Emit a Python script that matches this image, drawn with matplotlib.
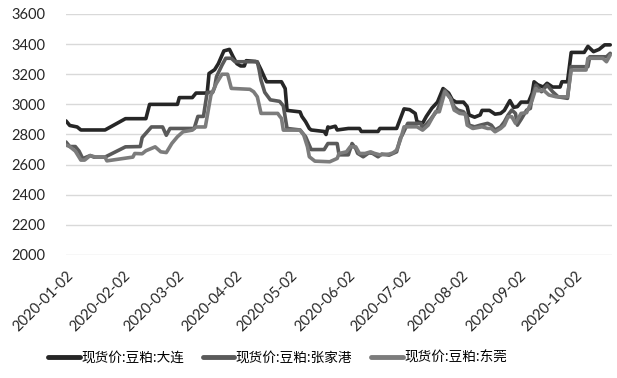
# Soybean meal spot prices: Dalian / Zhangjiagang / Dongguan, 2020
import matplotlib
matplotlib.use('Agg')
import matplotlib.pyplot as plt
import pandas as pd

plt.rcParams['font.family'] = ['Lato', 'Noto Sans CJK SC', 'DejaVu Sans']

# 现货价:豆粕:大连
dl_dates = ['2020-01-02', '2020-01-04', '2020-01-08', '2020-01-10', '2020-01-23', '2020-02-03',
            '2020-02-14', '2020-02-16', '2020-03-02', '2020-03-03', '2020-03-10', '2020-03-12',
            '2020-03-18', '2020-03-19', '2020-03-22', '2020-03-24', '2020-03-27', '2020-03-30',
            '2020-04-01', '2020-04-03', '2020-04-05', '2020-04-07', '2020-04-08', '2020-04-13',
            '2020-04-14', '2020-04-16', '2020-04-18', '2020-04-19', '2020-04-27', '2020-04-29',
            '2020-04-30', '2020-05-07', '2020-05-08', '2020-05-10', '2020-05-12', '2020-05-13',
            '2020-05-20', '2020-05-21', '2020-05-22', '2020-05-23', '2020-05-26', '2020-05-27',
            '2020-06-02', '2020-06-08', '2020-06-09', '2020-06-18', '2020-06-19', '2020-06-28',
            '2020-06-30', '2020-07-02', '2020-07-05', '2020-07-08', '2020-07-09', '2020-07-12',
            '2020-07-14', '2020-07-17', '2020-07-20', '2020-07-23', '2020-07-26', '2020-07-28',
            '2020-07-30', '2020-08-03', '2020-08-05', '2020-08-06', '2020-08-09', '2020-08-12',
            '2020-08-13', '2020-08-17', '2020-08-20', '2020-08-23', '2020-08-25', '2020-08-28',
            '2020-08-30', '2020-09-01', '2020-09-03', '2020-09-07', '2020-09-09', '2020-09-10',
            '2020-09-12', '2020-09-15', '2020-09-17', '2020-09-20', '2020-09-24', '2020-09-25',
            '2020-09-28', '2020-09-30', '2020-10-07', '2020-10-09', '2020-10-12', '2020-10-15',
            '2020-10-18', '2020-10-21']
dl_vals = [2890, 2860, 2850, 2830, 2830, 2905,
           2905, 3000, 3000, 3045, 3045, 3075,
           3075, 3205, 3230, 3270, 3355, 3365,
           3315, 3270, 3255, 3255, 3290, 3285,
           3280, 3230, 3175, 3150, 3150, 3105,
           2960, 2950, 2920, 2885, 2840, 2830,
           2820, 2800, 2850, 2845, 2855, 2830,
           2840, 2840, 2820, 2820, 2840, 2840,
           2905, 2970, 2965, 2940, 2885, 2875,
           2920, 2975, 3015, 3105, 3075, 3030,
           3015, 3015, 2985, 2930, 2915, 2930,
           2960, 2960, 2935, 2940, 2960, 3025,
           2980, 2985, 3015, 3015, 3075, 3150,
           3130, 3115, 3140, 3115, 3115, 3150,
           3150, 3345, 3345, 3385, 3350, 3365,
           3395, 3395]

# 现货价:豆粕:张家港
zjg_dates = ['2020-01-02', '2020-01-04', '2020-01-07', '2020-01-09', '2020-01-11', '2020-01-15',
             '2020-01-17', '2020-01-23', '2020-02-03', '2020-02-11', '2020-02-12', '2020-02-17',
             '2020-02-23', '2020-02-25', '2020-02-27', '2020-03-11', '2020-03-13', '2020-03-16',
             '2020-03-18', '2020-03-21', '2020-03-22', '2020-03-23', '2020-03-26', '2020-03-28',
             '2020-03-31', '2020-04-02', '2020-04-08', '2020-04-14', '2020-04-15', '2020-04-16',
             '2020-04-18', '2020-04-21', '2020-04-26', '2020-04-28', '2020-04-30', '2020-05-07',
             '2020-05-10', '2020-05-13', '2020-05-20', '2020-05-22', '2020-05-27', '2020-05-28',
             '2020-06-02', '2020-06-04', '2020-06-06', '2020-06-07', '2020-06-10', '2020-06-13',
             '2020-06-15', '2020-06-18', '2020-06-20', '2020-06-24', '2020-06-28', '2020-06-30',
             '2020-07-01', '2020-07-04', '2020-07-11', '2020-07-12', '2020-07-16', '2020-07-20',
             '2020-07-24', '2020-07-27', '2020-07-29', '2020-07-31', '2020-08-03', '2020-08-05',
             '2020-08-06', '2020-08-09', '2020-08-12', '2020-08-16', '2020-08-18', '2020-08-20',
             '2020-08-23', '2020-08-25', '2020-08-27', '2020-08-29', '2020-08-31', '2020-09-01',
             '2020-09-03', '2020-09-06', '2020-09-08', '2020-09-09', '2020-09-11', '2020-09-14',
             '2020-09-17', '2020-09-20', '2020-09-23', '2020-09-28', '2020-09-30', '2020-10-09',
             '2020-10-10', '2020-10-19', '2020-10-21']
zjg_vals = [2750, 2720, 2720, 2690, 2640, 2660,
            2650, 2650, 2718, 2720, 2780, 2850,
            2850, 2795, 2840, 2840, 2920, 2920,
            3080, 3080, 3113, 3183, 3261, 3306,
            3306, 3283, 3283, 3283, 3228, 3160,
            3080, 3030, 3020, 2990, 2840, 2830,
            2785, 2700, 2700, 2740, 2740, 2665,
            2665, 2740, 2707, 2675, 2652, 2678,
            2675, 2652, 2670, 2663, 2685, 2775,
            2796, 2874, 2874, 2840, 2896, 2962,
            3095, 3040, 2984, 2962, 2951, 2918,
            2862, 2851, 2862, 2874, 2862, 2829,
            2851, 2884, 2929, 2962, 2940, 2862,
            2900, 2962, 2973, 3050, 3128, 3084,
            3128, 3084, 3050, 3040, 3250, 3250,
            3316, 3316, 3339]

# 现货价:豆粕:东莞
dg_dates = ['2020-01-02', '2020-01-04', '2020-01-07', '2020-01-10', '2020-01-12', '2020-01-15',
            '2020-01-18', '2020-01-23', '2020-01-24', '2020-02-07', '2020-02-08', '2020-02-12',
            '2020-02-14', '2020-02-19', '2020-02-22', '2020-02-25', '2020-02-26', '2020-02-28',
            '2020-03-02', '2020-03-05', '2020-03-10', '2020-03-12', '2020-03-17', '2020-03-20',
            '2020-03-23', '2020-03-26', '2020-03-29', '2020-03-31', '2020-04-10', '2020-04-12',
            '2020-04-14', '2020-04-16', '2020-04-25', '2020-04-26', '2020-04-27', '2020-04-28',
            '2020-05-07', '2020-05-09', '2020-05-11', '2020-05-12', '2020-05-15', '2020-05-23',
            '2020-05-27', '2020-05-28', '2020-06-01', '2020-06-03', '2020-06-06', '2020-06-08',
            '2020-06-11', '2020-06-14', '2020-06-16', '2020-06-19', '2020-06-24', '2020-06-26',
            '2020-06-28', '2020-06-30', '2020-07-02', '2020-07-09', '2020-07-12', '2020-07-15',
            '2020-07-19', '2020-07-21', '2020-07-24', '2020-07-27', '2020-07-29', '2020-08-01',
            '2020-08-04', '2020-08-05', '2020-08-08', '2020-08-13', '2020-08-16', '2020-08-18',
            '2020-08-20', '2020-08-23', '2020-08-25', '2020-08-27', '2020-08-29', '2020-08-31',
            '2020-09-03', '2020-09-06', '2020-09-09', '2020-09-11', '2020-09-12', '2020-09-15',
            '2020-09-18', '2020-09-22', '2020-09-28', '2020-09-30', '2020-10-08', '2020-10-09',
            '2020-10-17', '2020-10-19', '2020-10-21']
dg_vals = [2730, 2720, 2690, 2630, 2630, 2660,
           2650, 2650, 2625, 2650, 2674, 2672,
           2692, 2718, 2685, 2680, 2700, 2741,
           2785, 2818, 2829, 2850, 2850, 3060,
           3140, 3200, 3200, 3106, 3100, 3084,
           3050, 2940, 2940, 2922, 2907, 2829,
           2829, 2796, 2718, 2652, 2623, 2619,
           2641, 2674, 2685, 2718, 2718, 2674,
           2674, 2685, 2675, 2665, 2670, 2678,
           2696, 2763, 2851, 2851, 2829, 2862,
           2951, 2951, 3084, 3040, 2962, 2940,
           2935, 2862, 2840, 2851, 2840, 2840,
           2818, 2840, 2862, 2918, 2918, 2874,
           2940, 2945, 3029, 3106, 3090, 3095,
           3062, 3050, 3050, 3228, 3228, 3306,
           3306, 3283, 3328]

names = ['现货价:豆粕:大连', '现货价:豆粕:张家港', '现货价:豆粕:东莞']
colors = ['#262626', '#5a5a5a', '#7c7c7c']

fig = plt.figure(figsize=(6.17, 3.78), dpi=100)
ax = fig.add_axes([0.107, 0.3254, 0.885, 0.6376])

series = [(dl_dates, dl_vals), (zjg_dates, zjg_vals), (dg_dates, dg_vals)]
for (d, v), name, c in zip(series, names, colors):
    ax.plot(pd.to_datetime(d), v, color=c, lw=2.6, label=name, solid_capstyle='round',
            solid_joinstyle='round')

ax.set_ylim(2000, 3600)
ax.set_yticks(range(2000, 3601, 200))
ax.set_xlim(pd.Timestamp('2020-01-02'), pd.Timestamp('2020-10-22'))
ticks = pd.date_range('2020-01-01', '2020-10-01', freq='MS') + pd.Timedelta(days=1)
ax.set_xticks(ticks)
ax.set_xticklabels([t.strftime('%Y-%m-%d') for t in ticks], rotation=45, ha='right',
                   rotation_mode='anchor')
ax.grid(axis='y', color='#d9d9d9', lw=1)
ax.set_axisbelow(True)
for s in ax.spines.values():
    s.set_visible(False)
ax.tick_params(axis='both', length=0, labelsize=10.5, colors='#262626')
ax.tick_params(axis='y', pad=15)
ax.tick_params(axis='x', pad=10)

fig.legend(loc='center', bbox_to_anchor=(0.45, 0.053), ncol=3, frameon=False,
           handlelength=2.3, columnspacing=1.4, handletextpad=0.1,
           prop={'family': ['Noto Sans CJK SC', 'DejaVu Sans'], 'size': 9.8})
for h in fig.legends[0].get_lines():
    h.set_linewidth(3.5)

fig.savefig('out.png', dpi=100)
